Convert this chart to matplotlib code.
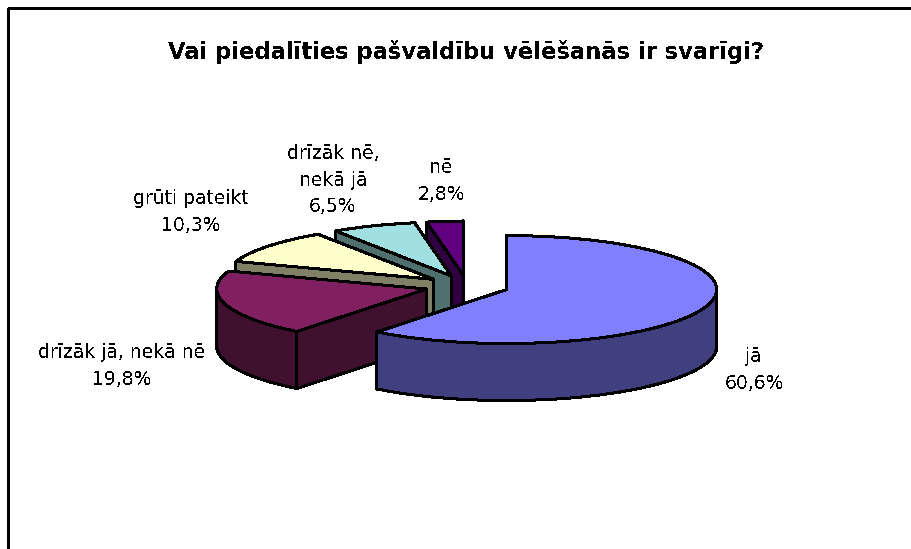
import numpy as np
import matplotlib
matplotlib.use("Agg")
import matplotlib.pyplot as plt
from matplotlib.transforms import Affine2D

title = "Vai piedalīties pašvaldību vēlēšanās ir svarīgi?"
names = ["jā", "drīzāk jā, nekā nē", "grūti pateikt", "drīzāk nē,\nnekā jā", "nē"]
values = [60.6, 19.8, 10.3, 6.5, 2.8]
top_colors = ["#8080FF", "#802060", "#FFFFCC", "#A0E0E0", "#600080"]
side_colors = ["#404080", "#40102F", "#808066", "#507070", "#300040"]
label_pos = [(754, 370), (122, 366), (191, 212), (333, 180), (441, 181)]
draw_order = [4, 3, 2, 1, 0]

W, H = 912, 549
CX, CY = 467, H - 286
RX, RY = 210, 54
DEPTH = 57
EXPL = 42
LW = 1.45
S = RY / RX

plt.rcParams["text.antialiased"] = False
plt.rcParams["font.family"] = "DejaVu Sans"
fig = plt.figure(figsize=(W / 100, H / 100), dpi=100, facecolor="white")
ax = fig.add_axes([0, 0, 1, 1])
wedges, _ = ax.pie(values, explode=[EXPL] * len(values), colors=top_colors, radius=RX,
                   center=(CX, CY), startangle=90, counterclock=False,
                   wedgeprops=dict(edgecolor="black", linewidth=LW), frame=False)
ax.set_aspect("auto")
ax.set_xlim(0, W)
ax.set_ylim(0, H)
ax.axis("off")

squash = Affine2D().translate(0, -CY).scale(1, S).translate(0, CY) + ax.transData

fracs = np.array(values) / sum(values) * 360
ends = np.cumsum(fracs)
starts = ends - fracs


def rim(ax0, ay0, a):
    r = np.radians(a)
    return ax0 + RX * np.sin(r), ay0 + RY * np.cos(r)


def face(xs, ys, color, z):
    ax.fill(xs, ys, facecolor=color, edgecolor="black", linewidth=LW,
            antialiased=False, zorder=z, joinstyle="round")


for rank, i in enumerate(draw_order):
    base = 10 * (rank + 1)
    mid = np.radians((starts[i] + ends[i]) / 2)
    ox = CX + EXPL * np.sin(mid)
    oy = CY + EXPL * np.cos(mid) * S
    cuts = sorted([starts[i], ends[i]], key=lambda a: -rim(ox, oy, a)[1])
    for k, a in enumerate(cuts):
        rx_, ry_ = rim(ox, oy, a)
        face([ox, rx_, rx_, ox], [oy, ry_, ry_ - DEPTH, oy - DEPTH], side_colors[i], base + k)
    lo, hi = max(starts[i], 90), min(ends[i], 270)
    if hi > lo:
        aa = np.linspace(lo, hi, 80)
        xr, yr = rim(ox, oy, aa)
        face(np.r_[xr, xr[::-1]], np.r_[yr, yr[::-1] - DEPTH], side_colors[i], base + 3)
    wedges[i].set_transform(squash)
    wedges[i].set_antialiased(False)
    wedges[i].set_zorder(base + 4)

ax.plot([8.4, 8.4, W], [0, H - 7.5, H - 7.5], color="black", lw=1.0, antialiased=False,
        solid_joinstyle="miter", zorder=100)

ax.text(466, H - 52, title, ha="center", va="center", fontsize=16.25, fontweight="bold", color="black")
for name, val, (lx, ly) in zip(names, values, label_pos):
    ax.text(lx, H - ly, f"{name}\n{val:.1f}%".replace(".", ","), ha="center", va="center",
            fontsize=13.5, linespacing=1.5, color="black")

fig.savefig("out.png", dpi=100, facecolor="white")
